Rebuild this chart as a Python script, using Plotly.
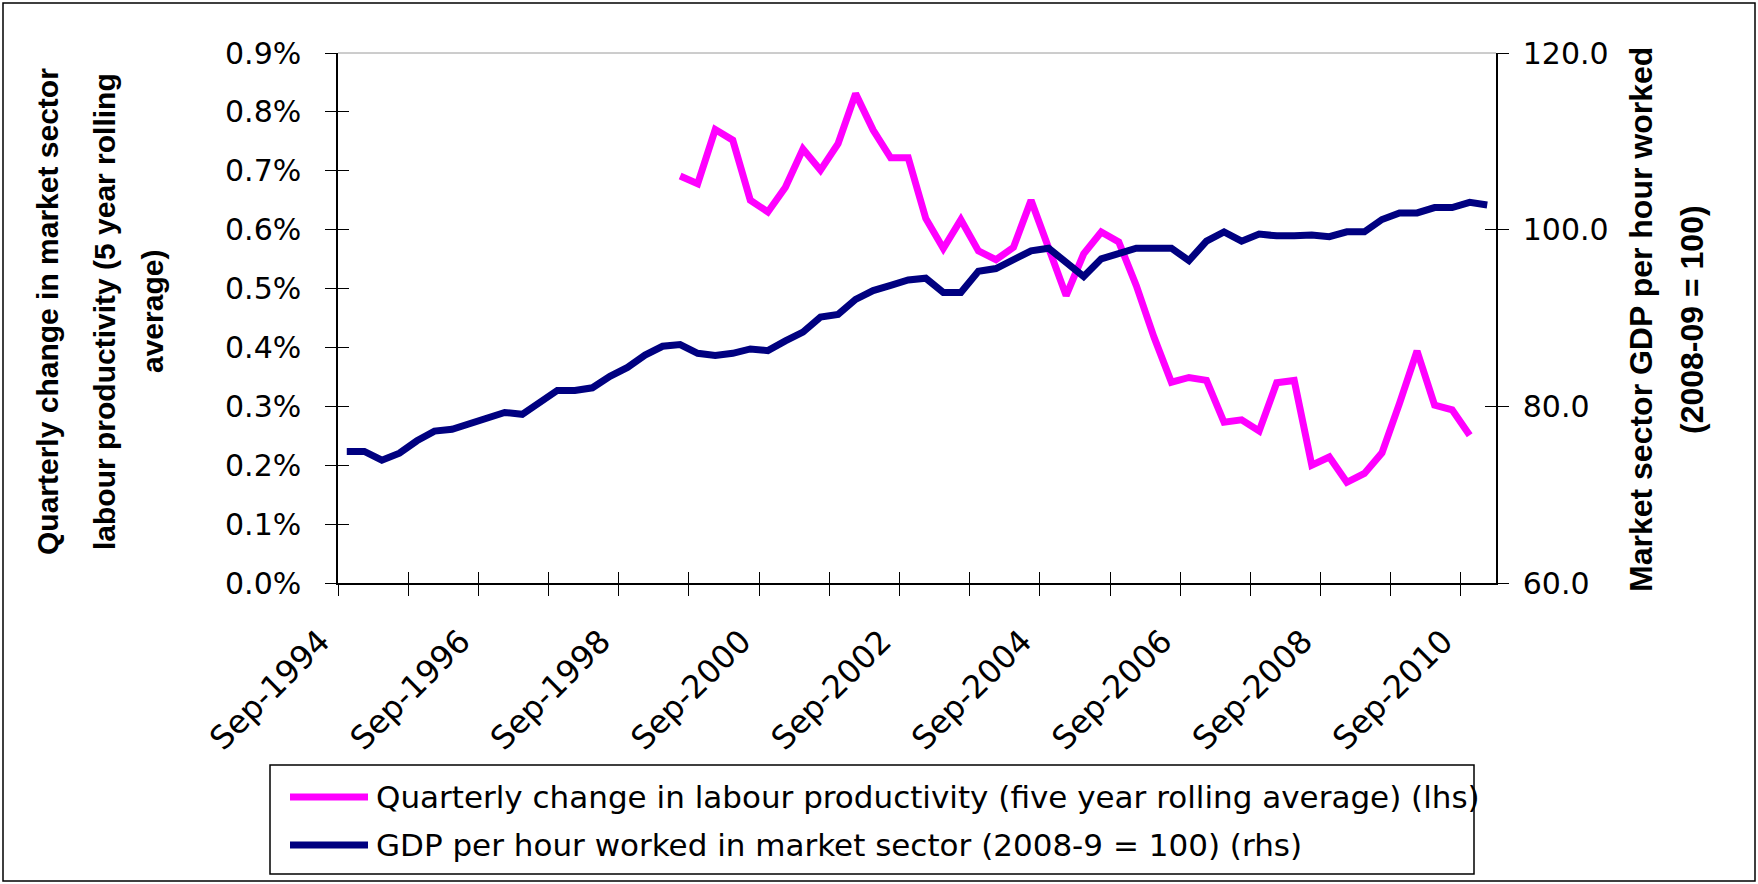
import plotly.graph_objects as go

# ---------------- data ----------------
quarters = []
_m = ["Mar", "Jun", "Sep", "Dec"]
for _y in range(1994, 2011):
    for _q in _m:
        quarters.append(f"{_q}-{_y}")
quarters = quarters[2:]  # Sep-1994 ... Dec-2010 (66 quarters)

gdp_per_hour = [74.9, 74.9, 73.9, 74.7, 76.1, 77.2, 77.4, 78.0, 78.5, 79.3,
                79.1, 80.5, 81.8, 81.8, 82.1, 83.4, 84.4, 85.8, 86.8, 87.0,
                86.0, 85.75, 86.0, 86.5, 86.3, 87.4, 88.4, 90.1, 90.4, 92.1,
                93.1, 93.7, 94.3, 94.5, 92.9, 92.9, 95.3, 95.6, 96.7, 97.6,
                97.9, 96.2, 94.7, 96.7, 97.3, 97.9, 97.9, 97.9, 96.5, 98.7,
                99.75, 98.7, 99.5, 99.3, 99.3, 99.4, 99.2, 99.75, 99.75, 101.15,
                101.9, 101.9, 102.5, 102.5, 103.1, 102.8]

prod_start = 19  # Jun-1999
productivity_pct = [0.691, 0.678, 0.770, 0.752, 0.650, 0.630, 0.672, 0.737, 0.701, 0.746,
                    0.831, 0.769, 0.722, 0.722, 0.619, 0.568, 0.617, 0.564, 0.549, 0.570,
                    0.650, 0.565, 0.488, 0.559, 0.596, 0.579, 0.505, 0.418, 0.341, 0.349,
                    0.344, 0.273, 0.277, 0.258, 0.340, 0.344, 0.200, 0.214, 0.171, 0.186,
                    0.221, 0.305, 0.394, 0.302, 0.294, 0.251]

x_labels = ["Sep-1994", "Sep-1996", "Sep-1998", "Sep-2000", "Sep-2002",
            "Sep-2004", "Sep-2006", "Sep-2008", "Sep-2010"]

name_prod = "Quarterly change in labour productivity (five year rolling average) (lhs)"
name_gdp = "GDP per hour worked in market sector (2008-9 = 100) (rhs)"

MAGENTA = "#FF00FF"
NAVY = "#000080"

# ---------------- layout geometry ----------------
W, H = 1758, 884
L, R, T, B = 338, 1496, 53, 583      # plot area (pixels)
LM = 280                              # left margin (room for label axis)
PWP = R - LM                          # paper width in pixels
PH = B - T

n = len(quarters)
CW = (R - L) / n                      # category width in pixels


def px(xp):
    return (xp - LM) / PWP


def py(yp):
    return (B - yp) / PH


idx = list(range(n))
prod_x = idx[prod_start:prod_start + len(productivity_pct)]

fig = go.Figure()
fig.add_trace(go.Scatter(x=prod_x, y=productivity_pct, mode="lines", name=name_prod,
                         line=dict(color=MAGENTA, width=7), xaxis="x", yaxis="y",
                         showlegend=False))
fig.add_trace(go.Scatter(x=idx, y=gdp_per_hour, mode="lines", name=name_gdp,
                         line=dict(color=NAVY, width=7), xaxis="x", yaxis="y2",
                         showlegend=False))
# helper (empty) traces so that the extra axes for labels / crossing ticks are drawn
for xa, ya in [("x2", "y"), ("x3", "y"), ("x", "y3"), ("x", "y4")]:
    fig.add_trace(go.Scatter(x=[None], y=[None], mode="lines", xaxis=xa, yaxis=ya,
                             showlegend=False, hoverinfo="skip"))

boundaries = [i - 0.5 for i in range(0, n + 1, 4)]
label_pos = [i * 8 - 1.5 for i in range(len(x_labels))]
x_range = [-0.5, n - 0.5]
x2_range = [-0.5 - (L - LM) / CW, n - 0.5]

tickfont = dict(family="DejaVu Sans", size=30, color="black")
xtickfont = dict(family="DejaVu Sans", size=32, color="black")
titlefont = dict(family="Liberation Sans", size=30, color="black")
rtitlefont = dict(family="Liberation Sans", size=32, color="black")

fig.update_layout(
    width=W, height=H,
    margin=dict(l=LM, r=W - R, t=T, b=H - B, pad=0),
    paper_bgcolor="white", plot_bgcolor="rgba(0,0,0,0)",
    xaxis=dict(domain=[px(L), 1], range=x_range, tickmode="array", tickvals=boundaries,
               showticklabels=False, ticks="outside", ticklen=11, tickwidth=1,
               tickcolor="black", showline=True, linecolor="black", linewidth=1.5,
               showgrid=False, zeroline=False, fixedrange=True),
    xaxis2=dict(domain=[0, 1], anchor="y", side="bottom", range=x2_range,
                tickmode="array", tickvals=label_pos, ticktext=x_labels,
                tickangle=-45, ticks="", showline=False, showgrid=False,
                zeroline=False, tickfont=xtickfont, ticklabelstandoff=32),
    xaxis3=dict(overlaying="x", anchor="y", side="bottom", range=x_range,
                tickmode="array", tickvals=boundaries, showticklabels=False,
                ticks="inside", ticklen=11, tickcolor="black", showline=False,
                showgrid=False, zeroline=False),
    yaxis=dict(range=[0, 0.9], tickmode="linear", tick0=0, dtick=0.1, anchor="x",
               tickformat=".1f", ticksuffix="%", ticks="outside", ticklen=11,
               tickcolor="black", showline=True, linecolor="black", linewidth=1.5,
               showgrid=False, zeroline=False, tickfont=tickfont,
               ticklabelstandoff=18),
    yaxis2=dict(range=[60, 120], tickmode="linear", tick0=60, dtick=20,
                tickformat=".1f", ticks="outside", ticklen=11, tickcolor="black",
                overlaying="y", side="right", anchor="x", showline=True,
                linecolor="black", linewidth=1.5, showgrid=False, zeroline=False,
                tickfont=tickfont, ticklabelstandoff=8),
    yaxis3=dict(range=[0, 0.9], tickmode="linear", tick0=0, dtick=0.1,
                overlaying="y", side="left", anchor="x", ticks="inside", ticklen=11,
                tickcolor="black", showticklabels=False, showline=False,
                showgrid=False, zeroline=False),
    yaxis4=dict(range=[60, 120], tickmode="linear", tick0=60, dtick=20,
                overlaying="y", side="right", anchor="x", ticks="inside", ticklen=11,
                tickcolor="black", showticklabels=False, showline=False,
                showgrid=False, zeroline=False),
    showlegend=False,
)

shapes = []
# outer chart border
shapes.append(dict(type="rect", xref="paper", yref="paper",
                   x0=px(3), x1=px(W - 3), y0=py(3), y1=py(H - 3),
                   line=dict(color="black", width=1.5), layer="below"))
# top border of plot area
shapes.append(dict(type="line", xref="paper", yref="paper", x0=px(L), x1=1, y0=1, y1=1,
                   line=dict(color="#9a9a9a", width=1)))
# legend box
lg_x0, lg_x1, lg_y0, lg_y1 = 270, 1474, 765, 874
shapes.append(dict(type="rect", xref="paper", yref="paper",
                   x0=px(lg_x0), x1=px(lg_x1), y0=py(lg_y0), y1=py(lg_y1),
                   line=dict(color="black", width=1.5)))
rows = [(797, MAGENTA, name_prod), (845, NAVY, name_gdp)]
annotations = []
for yr, col, txt in rows:
    shapes.append(dict(type="line", xref="paper", yref="paper",
                       x0=px(290), x1=px(368), y0=py(yr), y1=py(yr),
                       line=dict(color=col, width=7)))
    annotations.append(dict(text=txt, xref="paper", yref="paper", x=px(374), y=py(yr),
                            xanchor="left", yanchor="middle", showarrow=False,
                            font=dict(family="DejaVu Sans", size=31, color="black")))

left_title = ["Quarterly change in market sector",
              "labour productivity (5 year rolling",
              "average)"]
for xc, txt in zip([47, 104, 152], left_title):
    annotations.append(dict(text=f"<b>{txt}</b>", xref="paper", yref="paper",
                            x=px(xc), y=py(312), xanchor="center", yanchor="middle",
                            textangle=-90, showarrow=False, font=titlefont))
right_title = ["Market sector GDP per hour worked", "(2008-09 = 100)"]
for xc, txt in zip([1641, 1692], right_title):
    annotations.append(dict(text=f"<b>{txt}</b>", xref="paper", yref="paper",
                            x=px(xc), y=py(320), xanchor="center", yanchor="middle",
                            textangle=-90, showarrow=False, font=rtitlefont))

fig.update_layout(shapes=shapes, annotations=annotations)
fig.write_html("out.html", config={"displayModeBar": False},
               post_script="document.body.style.margin='0px';")
